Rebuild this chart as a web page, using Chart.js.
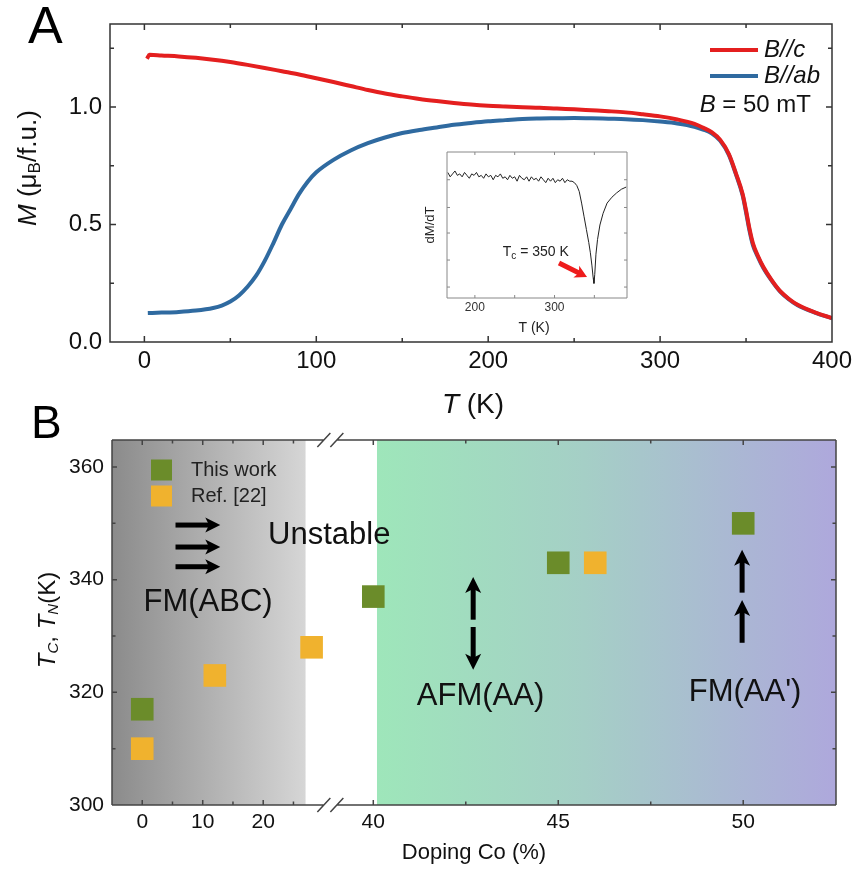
<!DOCTYPE html>
<html>
<head>
<meta charset="utf-8">
<script src="https://cdn.jsdelivr.net/npm/chart.js@4.4.1/dist/chart.umd.min.js"></script>
<style>
  body { margin: 0; background: #fff; }
  #wrap { position: relative; width: 859px; height: 871px; overflow: hidden; }
  canvas { position: absolute; }
</style>
</head>
<body>
<div id="wrap">
  <canvas id="chartA" width="859" height="430" style="left:0;top:0"></canvas>
  <canvas id="inset" width="220" height="200" style="left:420px;top:140px"></canvas>
  <canvas id="chartB" width="859" height="471" style="left:0;top:400px"></canvas>
</div>
<script>
// ---- panel A: M(T) curves ----
const tempC = [1.5, 3, 10, 20, 30, 40, 50, 60, 70, 80, 90, 100, 110, 120, 130, 140, 150, 160, 170, 180, 190, 200, 210, 220, 230, 240, 250, 260, 270, 280, 290, 300, 310, 320, 325, 330, 335, 340, 344, 348, 350, 352, 354, 357, 360, 365, 370, 375, 380, 390, 400];
const mC = [1.205, 1.222, 1.219, 1.215, 1.209, 1.201, 1.191, 1.179, 1.166, 1.152, 1.138, 1.122, 1.106, 1.089, 1.072, 1.057, 1.045, 1.034, 1.025, 1.017, 1.010, 1.005, 1.002, 0.999, 0.997, 0.993, 0.990, 0.986, 0.982, 0.977, 0.969, 0.960, 0.947, 0.928, 0.912, 0.893, 0.860, 0.800, 0.720, 0.630, 0.560, 0.482, 0.420, 0.365, 0.320, 0.262, 0.215, 0.183, 0.158, 0.126, 0.102];
const tempAB = [2, 10, 20, 30, 40, 45, 50, 55, 60, 65, 70, 75, 80, 85, 90, 95, 100, 110, 120, 130, 140, 150, 160, 170, 180, 190, 200, 210, 220, 230, 240, 250, 260, 270, 280, 290, 300, 310, 320, 325, 330, 335, 340, 344, 348, 350, 352, 354, 357, 360, 365, 370, 375, 380, 390, 400];
const mAB = [0.123, 0.125, 0.128, 0.134, 0.145, 0.155, 0.172, 0.198, 0.235, 0.282, 0.345, 0.420, 0.500, 0.565, 0.630, 0.682, 0.722, 0.775, 0.815, 0.846, 0.870, 0.889, 0.902, 0.913, 0.924, 0.932, 0.939, 0.944, 0.949, 0.951, 0.952, 0.953, 0.952, 0.950, 0.948, 0.944, 0.938, 0.930, 0.916, 0.904, 0.888, 0.856, 0.796, 0.716, 0.624, 0.552, 0.474, 0.412, 0.360, 0.316, 0.260, 0.213, 0.181, 0.156, 0.125, 0.101];
const ticksAx = [0, 100, 200, 300, 400];
const minorAx = [50, 150, 250, 350];
const ticksAy = [0, 0.5, 1.0];
const minorAy = [0.25, 0.75, 1.25];

// ---- inset: dM/dT ----
const insetT = [166, 169, 172, 175, 178, 181, 184, 187, 190, 193, 196, 199, 202, 205, 208, 211, 214, 217, 220, 223, 226, 229, 232, 235, 238, 241, 244, 247, 250, 253, 256, 259, 262, 265, 268, 271, 274, 277, 280, 283, 286, 289, 292, 295, 298, 301, 304, 307, 310, 313, 316, 319, 322,
  325, 328, 331, 334, 337, 340, 343, 345, 347, 348.5, 349.5, 350.5, 352, 354, 357, 361, 366, 372, 378, 384, 390];
const insetD = [0.86, 0.83, 0.85, 0.87, 0.84, 0.85, 0.83, 0.86, 0.84, 0.82, 0.85, 0.84, 0.86, 0.83, 0.84, 0.82, 0.85, 0.83, 0.84, 0.81, 0.84, 0.83, 0.85, 0.82, 0.83, 0.81, 0.84, 0.82, 0.83, 0.80, 0.84, 0.82, 0.81, 0.83, 0.80, 0.83, 0.81, 0.82, 0.80, 0.83, 0.81, 0.79, 0.82, 0.80, 0.82, 0.79, 0.81, 0.80, 0.82, 0.79, 0.81, 0.80, 0.80,
  0.79, 0.77, 0.73, 0.65, 0.56, 0.47, 0.38, 0.31, 0.22, 0.14, 0.10, 0.16, 0.30, 0.40, 0.50, 0.58, 0.65, 0.69, 0.72, 0.745, 0.76];
const insetTicks = [200, 300];
const insetMinor = [250, 350];
const insetYTicks = [0.075, 0.26, 0.445, 0.62, 0.81];

// ---- panel B: transition temperatures ----
const dopingThisWork = [0, 40, 45, 50];
const tcThisWork = [317, 337, 343, 350];
const dopingRef = [0, 12, 28, 46];
const tcRef = [310, 323, 328, 343];
const ticksBx = [0, 10, 20, 40, 45, 50];
const minorBx = [5, 15, 25, 42.5, 47.5];
const ticksBy = [300, 320, 340, 360];
const minorBy = [310, 330, 350];
const grayEnd = 27, greenStart = 40.1;

const FONT = '"Liberation Sans", Arial, Helvetica, sans-serif';
const fnt = (size, style) => (style || '') + ' ' + size + 'px ' + FONT;

// broken x axis: 0..31 kept, 40.. stretched
function brk(d) {
  return d <= 31 ? d : 38.2 + (d - 40) * 6.116;
}

function richText(ctx, parts, x, y, align, angle) {
  ctx.save();
  ctx.translate(x, y);
  if (angle) ctx.rotate(angle);
  let w = 0;
  parts.forEach(p => { ctx.font = p.font; w += ctx.measureText(p.text).width; });
  let cx = align === 'center' ? -w / 2 : (align === 'right' ? -w : 0);
  ctx.textBaseline = 'middle';
  ctx.textAlign = 'left';
  parts.forEach(p => {
    ctx.font = p.font;
    ctx.fillStyle = p.color || '#111';
    ctx.fillText(p.text, cx, p.dy || 0);
    cx += ctx.measureText(p.text).width;
  });
  ctx.restore();
}

function arrow(ctx, x1, y1, x2, y2, shaft, headLen, headW, color) {
  const ang = Math.atan2(y2 - y1, x2 - x1);
  const len = Math.hypot(x2 - x1, y2 - y1);
  ctx.save();
  ctx.translate(x1, y1);
  ctx.rotate(ang);
  ctx.fillStyle = color;
  ctx.fillRect(0, -shaft / 2, len - headLen * 0.7, shaft);
  ctx.beginPath();
  ctx.moveTo(len, 0);
  ctx.lineTo(len - headLen, -headW / 2);
  ctx.lineTo(len - headLen * 0.75, 0);
  ctx.lineTo(len - headLen, headW / 2);
  ctx.closePath();
  ctx.fill();
  ctx.restore();
}

// frame + inward ticks on all four sides
const framePlugin = {
  id: 'frame',
  afterDatasetsDraw(chart, args, o) {
    const {ctx, chartArea: a, scales: {x, y}} = chart;
    const mapX = o.mapX || (v => v);
    ctx.save();
    ctx.strokeStyle = o.color;
    ctx.lineWidth = o.width;
    ctx.beginPath();
    if (o.breakAt != null) {
      const bx = x.getPixelForValue(o.breakAt);
      [a.top, a.bottom].forEach(yy => {
        ctx.moveTo(a.left, yy); ctx.lineTo(bx - 6.5, yy);
        ctx.moveTo(bx + 6.5, yy); ctx.lineTo(a.right, yy);
        ctx.moveTo(bx - 13, yy + 7); ctx.lineTo(bx, yy - 7);
        ctx.moveTo(bx, yy + 7); ctx.lineTo(bx + 13, yy - 7);
      });
      ctx.moveTo(a.left, a.top); ctx.lineTo(a.left, a.bottom);
      ctx.moveTo(a.right, a.top); ctx.lineTo(a.right, a.bottom);
    } else {
      ctx.rect(a.left, a.top, a.right - a.left, a.bottom - a.top);
    }
    const xt = (vals, len) => vals.forEach(v => {
      const px = x.getPixelForValue(mapX(v));
      ctx.moveTo(px, a.bottom); ctx.lineTo(px, a.bottom - len);
      ctx.moveTo(px, a.top); ctx.lineTo(px, a.top + len);
    });
    const yt = (vals, len) => vals.forEach(v => {
      const py = y.getPixelForValue(v);
      ctx.moveTo(a.left, py); ctx.lineTo(a.left + len, py);
      ctx.moveTo(a.right, py); ctx.lineTo(a.right - len, py);
    });
    xt(o.xMajor, o.major); xt(o.xMinor, o.minor);
    yt(o.yMajor, o.major); yt(o.yMinor, o.minor);
    ctx.stroke();
    ctx.restore();
  }
};

// ---------- chart A ----------
const annotA = {
  id: 'annotA',
  afterDraw(chart) {
    const {ctx, chartArea: a} = chart;
    ctx.save();
    ctx.fillStyle = '#000';
    ctx.font = fnt(52);
    ctx.textBaseline = 'alphabetic';
    ctx.fillText('A', 28, 43);
    ctx.restore();
    richText(ctx, [
      {text: 'M', font: fnt(26, 'italic')},
      {text: ' (\u03bc', font: fnt(26)},
      {text: 'B', font: fnt(17), dy: 6},
      {text: '/f.u.)', font: fnt(26)}
    ], 29, 168, 'center', -Math.PI / 2);
    richText(ctx, [
      {text: 'T', font: fnt(28, 'italic')},
      {text: ' (K)', font: fnt(28)}
    ], 473, 405, 'center');
    // legend
    const lx0 = a.right - 122, lx1 = a.right - 74;
    [['#e41f1f', 'B//c', 50], ['#2f6aa0', 'B//ab', 76]].forEach(([c, t, yy]) => {
      ctx.save();
      ctx.strokeStyle = c; ctx.lineWidth = 4;
      ctx.beginPath(); ctx.moveTo(lx0, yy); ctx.lineTo(lx1, yy); ctx.stroke();
      ctx.restore();
      richText(ctx, [{text: t, font: fnt(24, 'italic')}], a.right - 68, yy, 'left');
    });
    richText(ctx, [
      {text: 'B', font: fnt(24, 'italic')},
      {text: ' = 50 mT', font: fnt(24)}
    ], a.right - 21, 105, 'right');
  }
};

new Chart(document.getElementById('chartA'), {
  type: 'line',
  data: {
    datasets: [
      {
        label: 'B//c',
        data: tempC.map((t, i) => ({x: t, y: mC[i]})),
        borderColor: '#e41f1f',
        borderWidth: 4,
        pointRadius: 0,
        cubicInterpolationMode: 'monotone'
      },
      {
        label: 'B//ab',
        data: tempAB.map((t, i) => ({x: t, y: mAB[i]})),
        borderColor: '#2f6aa0',
        borderWidth: 4,
        pointRadius: 0,
        cubicInterpolationMode: 'monotone'
      }
    ]
  },
  options: {
    responsive: false,
    animation: false,
    devicePixelRatio: 1,
    events: [],
    layout: {padding: {top: 24, right: 27, left: 0, bottom: 0}},
    plugins: {
      legend: {display: false},
      tooltip: {enabled: false},
      frame: {color: '#333', width: 1.5, major: 6, minor: 4,
        xMajor: ticksAx, xMinor: minorAx, yMajor: ticksAy, yMinor: minorAy}
    },
    scales: {
      x: {
        type: 'linear', min: -20, max: 400,
        grid: {display: false, drawTicks: false},
        border: {display: false},
        afterBuildTicks: s => { s.ticks = ticksAx.map(v => ({value: v})); },
        afterFit: s => { s.height = 88; },
        ticks: {font: {family: FONT, size: 24}, color: '#111', padding: 5, maxRotation: 0, autoSkip: false}
      },
      y: {
        type: 'linear', min: 0, max: 1.353,
        grid: {display: false, drawTicks: false},
        border: {display: false},
        afterBuildTicks: s => { s.ticks = ticksAy.map(v => ({value: v})); },
        afterFit: s => { s.width = 110; },
        ticks: {font: {family: FONT, size: 24}, color: '#111', padding: 8, callback: v => v.toFixed(1)}
      }
    }
  },
  plugins: [framePlugin, annotA]
});

// ---------- inset ----------
const annotInset = {
  id: 'annotInset',
  beforeDatasetsDraw(chart) {
    const {ctx, chartArea: a} = chart;
    ctx.save();
    ctx.fillStyle = '#fff';
    ctx.fillRect(a.left, a.top, a.right - a.left, a.bottom - a.top);
    ctx.restore();
  },
  afterDraw(chart) {
    const {ctx, chartArea: a, scales: {x, y}} = chart;
    richText(ctx, [{text: 'dM/dT', font: fnt(13), color: '#222'}], 10, (a.top + a.bottom) / 2, 'center', -Math.PI / 2);
    richText(ctx, [{text: 'T (K)', font: fnt(14), color: '#222'}], (a.left + a.right) / 2 - 3, 188, 'center');
    richText(ctx, [
      {text: 'T', font: fnt(14), color: '#222'},
      {text: 'c', font: fnt(10), dy: 4, color: '#222'},
      {text: ' = 350 K', font: fnt(14), color: '#222'}
    ], x.getPixelForValue(235), y.getPixelForValue(0.315), 'left');
    arrow(ctx, x.getPixelForValue(305.6), y.getPixelForValue(0.24),
      x.getPixelForValue(340.8), y.getPixelForValue(0.144), 5, 12, 13, '#ee1c1c');
  }
};

new Chart(document.getElementById('inset'), {
  type: 'line',
  data: {
    datasets: [{
      data: insetT.map((t, i) => ({x: t, y: insetD[i]})),
      borderColor: '#222',
      borderWidth: 1,
      pointRadius: 0,
      tension: 0
    }]
  },
  options: {
    responsive: false,
    animation: false,
    devicePixelRatio: 1,
    events: [],
    layout: {padding: {top: 12, right: 13, left: 0, bottom: 0}},
    plugins: {
      legend: {display: false},
      tooltip: {enabled: false},
      frame: {color: '#888', width: 1, major: 3, minor: 3,
        xMajor: insetTicks, xMinor: insetMinor, yMajor: insetYTicks, yMinor: []}
    },
    scales: {
      x: {
        type: 'linear', min: 165, max: 391,
        grid: {display: false, drawTicks: false},
        border: {display: false},
        afterBuildTicks: s => { s.ticks = insetTicks.map(v => ({value: v})); },
        afterFit: s => { s.height = 42; },
        ticks: {font: {family: FONT, size: 12}, color: '#333', padding: 2, maxRotation: 0, autoSkip: false}
      },
      y: {
        type: 'linear', min: 0, max: 1,
        grid: {display: false, drawTicks: false},
        border: {display: false},
        afterFit: s => { s.width = 27; },
        ticks: {display: false}
      }
    }
  },
  plugins: [framePlugin, annotInset]
});

// ---------- chart B ----------
const bgB = {
  id: 'bgB',
  beforeDatasetsDraw(chart) {
    const {ctx, chartArea: a, scales: {x}} = chart;
    const xg = x.getPixelForValue(brk(grayEnd));
    const xs = x.getPixelForValue(brk(greenStart));
    ctx.save();
    const g1 = ctx.createLinearGradient(a.left, 0, xg, 0);
    g1.addColorStop(0, '#8b8b8b');
    g1.addColorStop(1, '#d6d6d6');
    ctx.fillStyle = g1;
    ctx.fillRect(a.left, a.top, xg - a.left, a.bottom - a.top);
    const g2 = ctx.createLinearGradient(xs, 0, a.right, 0);
    g2.addColorStop(0, '#9ee6ba');
    g2.addColorStop(0.45, '#a5cfc6');
    g2.addColorStop(1, '#aea8dc');
    ctx.fillStyle = g2;
    ctx.fillRect(xs, a.top, a.right - xs, a.bottom - a.top);
    ctx.restore();
  }
};

const annotB = {
  id: 'annotB',
  afterDatasetsDraw(chart) {
    const {ctx, chartArea: a, scales: {x, y}} = chart;
    const px = d => x.getPixelForValue(brk(d));
    const py = v => y.getPixelForValue(v);
    ctx.save();
    ctx.fillStyle = '#000';
    ctx.font = fnt(46);
    ctx.textBaseline = 'alphabetic';
    ctx.fillText('B', 31, 38);
    ctx.restore();

    // legend
    [['#6b8c2a', 'This work', 30], ['#f0b22e', 'Ref. [22]', 56]].forEach(([c, t, dy]) => {
      ctx.fillStyle = c;
      ctx.fillRect(a.left + 39, a.top + dy - 10.5, 21, 21);
      richText(ctx, [{text: t, font: fnt(20), color: '#222'}], a.left + 79, a.top + dy, 'left');
    });

    // FM(ABC): three right arrows
    [349.7, 345.8, 342.3].forEach(v => arrow(ctx, px(5.5), py(v), px(12.9), py(v), 5, 15, 15, '#000'));
    richText(ctx, [{text: 'Unstable', font: fnt(31)}], px(20.8), py(347.8), 'left');
    richText(ctx, [{text: 'FM(ABC)', font: fnt(31)}], px(0.2), py(336), 'left');

    // AFM(AA): up + down arrows
    arrow(ctx, px(42.7), py(332.9), px(42.7), py(340.5), 5, 16, 16, '#000');
    arrow(ctx, px(42.7), py(331.6), px(42.7), py(324), 5, 16, 16, '#000');
    richText(ctx, [{text: 'AFM(AA)', font: fnt(31)}], px(42.9), py(319.2), 'center');

    // FM(AA'): two up arrows
    arrow(ctx, px(49.97), py(328.8), px(49.97), py(336.4), 5, 16, 16, '#000');
    arrow(ctx, px(49.97), py(337.7), px(49.97), py(345.3), 5, 16, 16, '#000');
    richText(ctx, [{text: "FM(AA')", font: fnt(31)}], px(50.05), py(319.9), 'center');

    // axis titles
    richText(ctx, [
      {text: 'T', font: fnt(24, 'italic')},
      {text: 'C', font: fnt(15, 'italic'), dy: 6},
      {text: ', ', font: fnt(24)},
      {text: 'T', font: fnt(24, 'italic')},
      {text: 'N', font: fnt(15, 'italic'), dy: 6},
      {text: '(K)', font: fnt(24)}
    ], 48, 220, 'center', -Math.PI / 2);
    richText(ctx, [{text: 'Doping Co (%)', font: fnt(22)}], 474, 453, 'center');
  }
};

new Chart(document.getElementById('chartB'), {
  type: 'scatter',
  data: {
    datasets: [
      {
        label: 'This work',
        data: dopingThisWork.map((d, i) => ({x: brk(d), y: tcThisWork[i]})),
        pointStyle: 'rect',
        pointRadius: 16,
        backgroundColor: '#6b8c2a',
        borderWidth: 0
      },
      {
        label: 'Ref. [22]',
        data: dopingRef.map((d, i) => ({x: brk(d), y: tcRef[i]})),
        pointStyle: 'rect',
        pointRadius: 16,
        backgroundColor: '#f0b22e',
        borderWidth: 0
      }
    ]
  },
  options: {
    responsive: false,
    animation: false,
    devicePixelRatio: 1,
    events: [],
    layout: {padding: {top: 40, right: 23, left: 0, bottom: 0}},
    plugins: {
      legend: {display: false},
      tooltip: {enabled: false},
      frame: {color: '#444', width: 1.5, major: 5, minor: 3.5, mapX: brk, breakAt: 31.1,
        xMajor: ticksBx, xMinor: minorBx, yMajor: ticksBy, yMinor: minorBy}
    },
    scales: {
      x: {
        type: 'linear', min: -5, max: 114.7,
        grid: {display: false, drawTicks: false},
        border: {display: false},
        afterBuildTicks: s => { s.ticks = ticksBx.map(v => ({value: brk(v)})); },
        afterFit: s => { s.height = 66; },
        ticks: {font: {family: FONT, size: 21}, color: '#111', padding: 5, maxRotation: 0, autoSkip: false,
          callback: (v, i) => String(ticksBx[i])}
      },
      y: {
        type: 'linear', min: 300, max: 364.8,
        grid: {display: false, drawTicks: false},
        border: {display: false},
        afterBuildTicks: s => { s.ticks = ticksBy.map(v => ({value: v})); },
        afterFit: s => { s.width = 112; },
        ticks: {font: {family: FONT, size: 21}, color: '#111', padding: 8}
      }
    }
  },
  plugins: [bgB, framePlugin, annotB]
});
</script>
</body>
</html>
